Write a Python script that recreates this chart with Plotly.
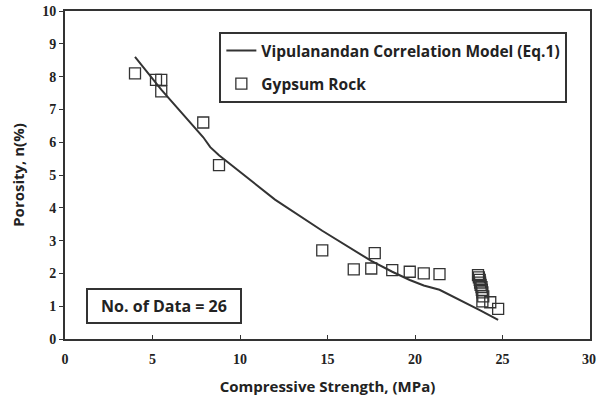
import plotly.graph_objects as go

# Data (Gypsum Rock)
strength = [4.0, 5.2, 5.5, 5.5, 7.9, 8.8, 14.7, 16.5, 17.5, 17.7, 18.7, 19.7, 20.5, 21.4,
            23.6, 23.65, 23.7, 23.72, 23.75, 23.8, 23.82, 23.85, 23.9, 23.85, 24.3, 24.75]
porosity = [8.1, 7.9, 7.9, 7.55, 6.6, 5.3, 2.7, 2.12, 2.15, 2.62, 2.1, 2.05, 2.0, 1.98,
            1.95, 1.88, 1.8, 1.72, 1.65, 1.58, 1.5, 1.42, 1.3, 1.15, 1.12, 0.92]

# Model curve
model_x = [4.0, 5.2, 5.5, 7.9, 8.3, 8.8, 12.0, 14.7, 16.5, 17.5, 18.7, 19.7, 20.5, 21.4, 23.7, 24.75]
model_y = [8.6, 7.8, 7.6, 6.15, 5.85, 5.6, 4.25, 3.3, 2.72, 2.38, 2.05, 1.8, 1.63, 1.5, 0.88, 0.58]

x_ticks = [0, 5, 10, 15, 20, 25, 30]
x_ticktext = ["0", "5", "10", "15", "20", "25", "30"]
y_ticks = [0, 1, 2, 3, 4, 5, 6, 7, 8, 9, 10]

fig = go.Figure()
fig.add_trace(go.Scatter(x=model_x, y=model_y, mode="lines",
                         line=dict(color="#333333", width=2), legendgroup="a",
                         name="Vipulanandan Correlation Model (Eq.1)"))
fig.add_trace(go.Scatter(x=strength, y=porosity, mode="markers", legendgroup="b",
                         marker=dict(symbol="square-open", size=11, color="#333333",
                                     line=dict(width=1.3)),
                         name="Gypsum Rock"))

sans = "Open Sans"
serif = "Liberation Serif"
tickfont = dict(family=serif, size=14, color="#222222", weight="bold")

fig.update_layout(
    width=598, height=401,
    margin=dict(l=65, r=8, t=11, b=62, autoexpand=False),
    plot_bgcolor="white", paper_bgcolor="white",
    showlegend=True,
    legend=dict(x=0.294, y=0.936, xanchor="left", yanchor="top",
                bordercolor="#333333", borderwidth=2, bgcolor="white",
                font=dict(family=sans, size=15.5, color="#222222", weight="bold"),
                tracegroupgap=10, itemwidth=30),
    xaxis=dict(range=[0, 30], tickvals=x_ticks[:-1], ticktext=x_ticktext[:-1],
               ticks="inside", ticklen=4, ticklabelstandoff=6,
               tickcolor="#333333", showline=True, linecolor="#333333", linewidth=2,
               mirror=True, showgrid=False, zeroline=False, automargin=False,
               tickfont=tickfont,
               title=dict(text="Compressive Strength, (MPa)",
                          font=dict(family=sans, size=15, color="#222222", weight="bold"),
                          standoff=16)),
    yaxis=dict(range=[0, 10], tickvals=y_ticks, ticks="outside", ticklen=4,
               tickcolor="#333333", showline=True, linecolor="#333333", linewidth=2,
               mirror=True, showgrid=False, zeroline=False, automargin=False,
               tickfont=tickfont,
               title=dict(text="Porosity, n(%)",
                          font=dict(family=sans, size=15, color="#222222", weight="bold"),
                          standoff=14)),
)

# last x tick label, placed as an annotation so it is not dropped at the page edge
fig.add_annotation(x=x_ticks[-1], y=0, xref="x", yref="paper", text=x_ticktext[-1],
                   showarrow=False, xanchor="right", xshift=7, yanchor="middle", yshift=-20,
                   borderpad=0, font=tickfont)

fig.add_annotation(x=5.63, y=1.0, xref="x", yref="y", text="No. of Data = 26",
                   showarrow=False, bordercolor="#333333", borderwidth=2, borderpad=5,
                   bgcolor="white", width=142, align="center",
                   font=dict(family=sans, size=16, color="#222222", weight="bold"))

fig.write_html("out.html")
